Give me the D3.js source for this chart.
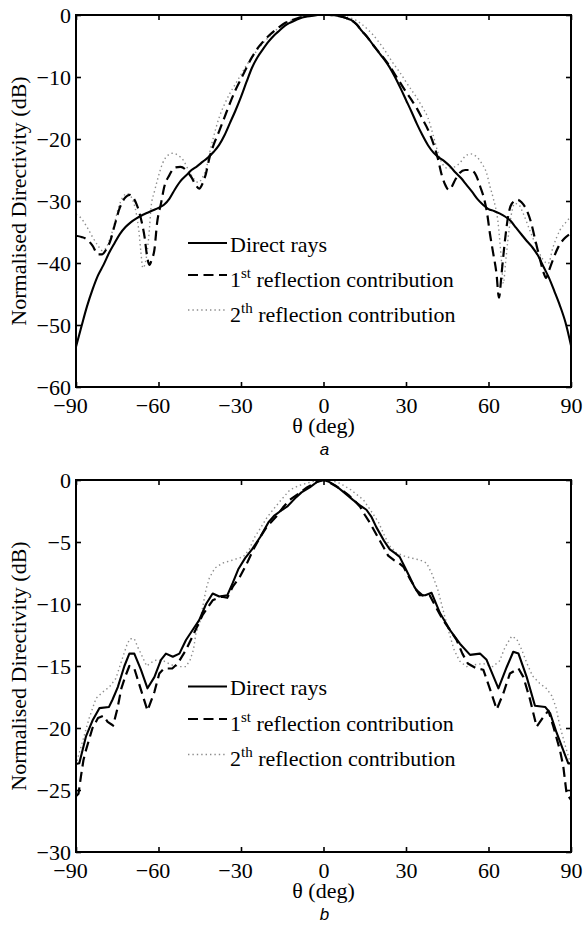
<!DOCTYPE html>
<html>
<head>
<meta charset="utf-8">
<script src="https://cdn.jsdelivr.net/npm/d3@7"></script>
<style>
  html, body { margin: 0; padding: 0; background: #fff; }
  svg { display: block; }
  .serif { font-family: "Liberation Serif", "Times New Roman", Times, serif; fill: #000; }
  .sansit { font-family: "Liberation Sans", Arial, sans-serif; font-style: italic; fill: #000; }
</style>
</head>
<body>
<svg id="chart" width="583" height="928"></svg>
<script>
// ---------------- DATA ----------------
const thetaTicks = [-90, -60, -30, 0, 30, 60, 90];
const yTicksA = [0, -10, -20, -30, -40, -50, -60];
const yTicksB = [0, -5, -10, -15, -20, -25, -30];
const legendLabels = ["Direct rays", "1st reflection contribution", "2th reflection contribution"];
const xLabel = "\u03B8 (deg)";
const yLabel = "Normalised Directivity (dB)";
const captions = ["a", "b"];

// Panel a — direct rays
const aDirectTheta = [-90,-88,-86,-84,-82,-80,-78,-76,-74,-72,-70,-68,-66,-64,-62,-60,-58,-56,-54,-52,-50,-48,-46,-44,-42,-40,-38,-36,-34,-32,-30,-28,-26,-24,-22,-20,-18,-16,-14,-12,-10,-8,-6,-4,-2,0,2,4,6,8,10,12,14,16,18,20,22,24,26,28,30,32,34,36,38,40,42,44,46,48,50,52,54,56,58,60,62,64,66,68,70,72,74,76,78,80,82,84,86,88,90];
const aDirectDB = [-53.5,-50.2,-47.0,-44.3,-42.0,-40.3,-38.4,-36.8,-35.3,-34.2,-33.4,-32.8,-32.3,-31.9,-31.5,-31.1,-30.6,-29.6,-28.1,-26.8,-25.9,-25.0,-24.4,-23.7,-23.0,-22.1,-21.0,-19.4,-17.4,-15.4,-13.2,-10.8,-8.5,-6.8,-5.5,-4.3,-3.3,-2.5,-1.7,-1.2,-0.8,-0.45,-0.25,-0.1,0,0,0,-0.05,-0.2,-0.45,-0.8,-1.5,-2.6,-3.6,-4.8,-6.0,-7.1,-8.4,-10.0,-11.8,-13.7,-15.6,-17.6,-19.4,-21.0,-22.2,-23.0,-23.6,-24.4,-25.4,-26.3,-27.4,-28.5,-29.7,-30.6,-31.3,-31.6,-32.0,-32.5,-33.2,-34.3,-35.4,-36.5,-37.5,-38.8,-40.6,-42.4,-44.6,-46.9,-49.6,-53.3];

// Panel a — 1st reflection
const aFirstTheta = [-90,-88,-86,-84,-82,-80.5,-79,-77.5,-76,-74,-72,-70.5,-69,-68,-67,-66,-65,-64.2,-63.3,-62.5,-61.5,-60.5,-59,-58,-56,-54,-52,-50,-48,-46.5,-45.2,-44,-42.7,-41.5,-40,-38,-36,-34,-32,-30,-28,-26,-24,-22,-20,-18,-16,-14,-12,-10,-8,-6,-4,-2,0,2,4,6,8,10,12,14,16,18,20,22,24,26,28,30,32,34,36,38,40,41.5,43,44.5,45.5,46.5,48,49.5,51.5,53.5,55.5,57,58.5,59.5,60.5,61.7,62.9,63.8,64.8,66,67.2,68.5,70.5,72,74,75.5,77,78.5,80,80.9,82,83.5,85.4,87.5,90];
const aFirstDB = [-35.6,-35.8,-36.2,-37.2,-38.6,-38.6,-37.8,-36.4,-34.0,-31.0,-29.4,-29.0,-29.6,-30.5,-31.8,-33.6,-36.0,-38.8,-40.3,-39.5,-37.9,-33.5,-30.2,-27.9,-25.8,-24.6,-24.5,-25.0,-26.2,-27.4,-28.0,-27.2,-25.5,-23.1,-21.0,-18.8,-16.5,-14.2,-12.1,-10.3,-8.5,-6.8,-5.4,-4.3,-3.4,-2.6,-1.9,-1.3,-0.9,-0.6,-0.35,-0.15,-0.05,0,0,0,-0.05,-0.2,-0.45,-0.8,-1.5,-2.6,-3.6,-4.8,-5.9,-7.0,-8.2,-9.6,-11.0,-12.4,-13.7,-15.1,-16.8,-18.5,-20.8,-23.0,-25.8,-27.6,-28.2,-27.8,-26.5,-25.5,-25.0,-25.0,-25.9,-27.7,-29.8,-32.0,-35.2,-38.4,-41.7,-45.6,-41.5,-36.3,-32.3,-30.4,-29.8,-30.2,-31.6,-33.5,-36.3,-39.0,-41.5,-42.4,-41.2,-39.4,-37.4,-36.1,-35.2];

// Panel a — 2nd reflection
const aSecondTheta = [-90,-88.5,-86,-84,-82,-80.5,-79.5,-78,-76.5,-74.5,-73,-71.5,-70,-69,-68,-67.2,-66.4,-65.7,-65,-64,-63.3,-62.7,-61.5,-60.5,-58.5,-56.5,-54.8,-53,-51,-49,-47,-45.5,-44,-42.5,-41.3,-40,-38,-36,-34,-32,-30,-28,-26,-24,-22,-20,-18,-16,-14,-12,-10,-8,-6,-4,-2,0,2,4,6,8,10,12,14,16,18,20,22,24,26,28,30,32,34,36,38,40,41.5,43,45,47,49.5,51.5,53.5,55.5,57.5,59.3,60.5,61.7,63.5,64.6,65.4,66.2,67,67.8,69.6,71,72.6,75,77.5,79.9,81.7,83.5,86,88.4,90];
const aSecondDB = [-32.2,-32.6,-34.2,-35.8,-37.2,-38.0,-37.8,-36.5,-34.5,-31.0,-29.4,-28.8,-29.3,-30.3,-32.2,-34.6,-38.2,-40.8,-40.3,-37.8,-34.5,-31.0,-28.5,-26.8,-23.9,-22.6,-22.3,-22.6,-23.4,-25.1,-26.5,-27.0,-26.2,-24.5,-22.0,-19.7,-16.6,-14.4,-12.6,-11.1,-9.6,-8.1,-6.9,-5.6,-4.5,-3.6,-2.7,-2.0,-1.4,-0.9,-0.55,-0.3,-0.15,-0.05,0,0,0,-0.02,-0.1,-0.3,-0.5,-0.9,-1.5,-2.3,-3.2,-4.3,-5.5,-6.9,-8.2,-9.4,-10.8,-12.1,-13.4,-14.9,-16.6,-19.6,-22.0,-23.8,-24.7,-24.6,-23.9,-22.8,-22.4,-22.8,-23.9,-25.5,-27.6,-29.5,-33.6,-39.0,-43.3,-40.0,-36.5,-33.6,-30.4,-30.6,-32.0,-34.7,-37.4,-39.5,-40.1,-37.4,-34.7,-33.3,-32.5];

// Panel b — direct rays
const bDirectTheta = [-90,-88.8,-86.4,-84,-81.5,-78,-76.7,-74.8,-72.4,-70.6,-68.8,-66.4,-64,-61.5,-59.1,-57.3,-54.8,-52.4,-50,-47.6,-45.2,-42.7,-40.3,-37.9,-35,-33,-31,-28.5,-26,-23,-20,-18,-15,-13,-10,-8,-5,-2,0,2,4.7,8,10.7,13,15.6,17.5,19.2,22,24.1,26,27.7,29.5,31.3,33,35,37,39.3,42.4,46,49.6,53.3,56.9,59.3,63.6,66.6,69,70.9,73.9,76.9,80.6,82.4,84.8,87.2,89,90];
const bDirectDB = [-22.9,-22.85,-20.7,-19.4,-18.4,-18.3,-17.7,-16.7,-15.0,-14.0,-14.0,-15.3,-16.8,-15.9,-14.5,-14.0,-14.25,-14.0,-12.9,-12.1,-11.3,-10.0,-9.15,-9.4,-9.3,-8.3,-7.2,-6.3,-5.6,-4.6,-3.4,-2.9,-2.4,-2.1,-1.4,-1.0,-0.6,-0.1,0,-0.15,-0.5,-1.1,-1.6,-2.0,-2.4,-3.0,-3.8,-4.9,-5.6,-5.9,-6.2,-7.0,-7.8,-8.6,-9.3,-9.3,-9.1,-10.75,-12.1,-13.2,-14.1,-14.0,-14.5,-16.8,-15.1,-13.85,-14.0,-15.9,-18.2,-18.3,-18.8,-20.4,-21.8,-22.85,-22.85];

// Panel b — 1st reflection
const bFirstTheta = [-90,-89.1,-88.2,-87.3,-86.4,-84,-82,-80,-78.5,-76.5,-75,-73.5,-72,-70.6,-68.8,-66.4,-64,-61.5,-59.7,-58,-55,-53,-50,-47.6,-44,-40.3,-37,-35,-33,-30.4,-28,-25.5,-23,-20.7,-17,-14.7,-12.3,-9,-6,-3,0,3,6,9,11,13.3,15,17,19.5,21.8,23.5,25.5,27.5,29.1,31.5,33.9,36,38.6,41,43.5,46,48.4,50.5,52.5,55.7,58.1,60.6,63,65.4,67.8,70.9,72.7,75.1,77.5,80,81.8,83.6,86,87.2,88.4,90];
const bFirstDB = [-25.5,-25.3,-23.9,-22.6,-21.8,-20.0,-19.2,-19.0,-19.5,-19.8,-18.5,-16.8,-15.8,-15.0,-15.2,-16.9,-18.6,-17.1,-15.6,-15.2,-15.2,-14.8,-13.7,-12.6,-10.9,-9.7,-9.4,-9.5,-8.6,-7.8,-6.8,-5.6,-4.6,-3.8,-2.9,-2.2,-1.6,-1.1,-0.6,-0.2,0,-0.3,-0.7,-1.2,-1.6,-2.15,-2.8,-3.5,-4.5,-5.4,-6.1,-6.45,-6.7,-7.0,-8.0,-8.9,-9.3,-9.3,-10.3,-11.3,-12.1,-12.9,-14.0,-14.8,-15.2,-15.3,-16.9,-18.5,-17.2,-15.6,-15.2,-15.9,-17.7,-19.9,-19.1,-18.6,-19.9,-21.8,-23.1,-25.3,-25.8];

// Panel b — 2nd reflection
const bSecondTheta = [-90,-89.2,-87.5,-85.2,-82.7,-80.3,-77.9,-75.5,-73,-71.5,-70.4,-68.8,-67.5,-66.4,-64.3,-62.5,-60.7,-58,-55.5,-52.4,-50,-48.5,-47.3,-46.4,-44.9,-43.9,-42.7,-41.5,-39.5,-36.7,-33,-29.2,-27,-25,-23,-20.5,-18,-15,-12.2,-9,-6,-3,0,3,6,10,14.5,17,20,22,24,26.6,30.2,35,37.5,39.5,41.5,43.5,45.5,47.5,49.5,52,55,58,61.5,64,66,68.4,70.2,72.1,74,76,78.6,81,83,84.5,86,88.4,90];
const bSecondDB = [-23.0,-22.3,-21.0,-19.2,-17.6,-17.1,-16.7,-16.0,-14.3,-13.3,-12.8,-12.8,-13.5,-14.0,-15.0,-14.7,-14.5,-14.6,-14.9,-15.05,-15.05,-14.5,-13.7,-12.4,-11.4,-10.2,-8.8,-7.9,-7.1,-6.7,-6.45,-6.2,-5.6,-4.6,-3.9,-3.0,-2.3,-1.5,-0.8,-0.45,-0.25,-0.08,0,-0.05,-0.27,-0.8,-1.6,-2.4,-3.4,-4.4,-5.3,-5.9,-6.2,-6.45,-6.7,-7.6,-8.8,-10.5,-12.2,-13.7,-14.6,-15.05,-14.9,-14.8,-15.05,-14.6,-13.5,-12.6,-12.8,-13.7,-14.8,-15.8,-16.4,-16.8,-17.4,-18.3,-19.9,-21.8,-23.0];

// ---------------- DRAWING ----------------
const svg = d3.select("#chart");
const plotLeft = 76, plotRight = 571;
const fontSize = 22;

const styles = [
  { stroke: "#000", width: 2.1, dash: null },
  { stroke: "#000", width: 2.2, dash: "10,5.5" },
  { stroke: "#8c8c8c", width: 1.4, dash: "1.4,3" }
];

const panels = [
  { top: 15, bottom: 387, domain: [-60, 0], ticks: yTicksA, curve: d3.curveMonotoneX,
    series: [[aDirectTheta, aDirectDB], [aFirstTheta, aFirstDB], [aSecondTheta, aSecondDB]],
    legendBase: [251.5, 286.5, 321.5], caption: captions[0] },
  { top: 480, bottom: 852, domain: [-30, 0], ticks: yTicksB, curve: d3.curveLinear,
    series: [[bDirectTheta, bDirectDB], [bFirstTheta, bFirstDB], [bSecondTheta, bSecondDB]],
    legendBase: [695, 730.5, 766], caption: captions[1] }
];

const fmt = d => d < 0 ? "\u2212" + Math.abs(d) : String(d);

panels.forEach((p, pi) => {
  const x = d3.scaleLinear().domain([-90, 90]).range([plotLeft, plotRight]);
  const y = d3.scaleLinear().domain(p.domain).range([p.bottom, p.top]);
  const g = svg.append("g");

  const clipId = "clip" + pi;
  svg.append("clipPath").attr("id", clipId).append("rect")
    .attr("x", plotLeft).attr("y", p.top)
    .attr("width", plotRight - plotLeft).attr("height", p.bottom - p.top);

  // series
  const line = d3.line().x(d => x(d[0])).y(d => y(d[1])).curve(p.curve);
  [2, 1, 0].forEach(si => {
    const [th, db] = p.series[si];
    const pts = th.map((t, i) => [t, db[i]]);
    const st = styles[si];
    g.append("path")
      .attr("clip-path", `url(#${clipId})`)
      .attr("d", line(pts))
      .attr("fill", "none")
      .attr("stroke", st.stroke)
      .attr("stroke-width", st.width)
      .attr("stroke-dasharray", st.dash)
      .attr("stroke-linejoin", "round");
  });

  // axes
  const axB = d3.axisBottom(x).tickValues(thetaTicks).tickSizeInner(-5).tickSizeOuter(0).tickFormat(fmt);
  const axT = d3.axisTop(x).tickValues(thetaTicks).tickSizeInner(-5).tickSizeOuter(0).tickFormat("");
  const axL = d3.axisLeft(y).tickValues(p.ticks).tickSizeInner(-5).tickSizeOuter(0).tickFormat(fmt);
  const axR = d3.axisRight(y).tickValues(p.ticks).tickSizeInner(-5).tickSizeOuter(0).tickFormat("");

  const gb = g.append("g").attr("transform", `translate(0,${p.bottom})`).call(axB);
  const gt = g.append("g").attr("transform", `translate(0,${p.top})`).call(axT);
  const gl = g.append("g").attr("transform", `translate(${plotLeft},0)`).call(axL);
  const gr = g.append("g").attr("transform", `translate(${plotRight},0)`).call(axR);

  [gb, gt, gl, gr].forEach(a => {
    a.attr("font-family", null).attr("font-size", null);
    a.select(".domain").remove();
    a.selectAll(".tick line").attr("stroke", "#000").attr("stroke-width", 1.6);
    a.selectAll("text").attr("class", "serif").style("font-size", fontSize + "px");
  });
  gb.selectAll(".tick text").attr("y", 26).attr("dy", 0)
    .attr("dx", d => d < 0 ? -6 : 0);
  gl.selectAll(".tick text").attr("x", -5).attr("dy", "0.34em");

  // frame
  g.append("rect")
    .attr("x", plotLeft).attr("y", p.top)
    .attr("width", plotRight - plotLeft).attr("height", p.bottom - p.top)
    .attr("fill", "none").attr("stroke", "#000").attr("stroke-width", 2);

  // axis labels
  const cx = (plotLeft + plotRight) / 2;
  g.append("text").attr("class", "serif").attr("x", cx).attr("y", p.bottom + 45.5)
    .attr("text-anchor", "middle").style("font-size", fontSize + "px").text(xLabel);
  g.append("text").attr("class", "serif")
    .attr("transform", `translate(26,${(p.top + p.bottom) / 2}) rotate(-90)`)
    .attr("text-anchor", "middle").style("font-size", fontSize + "px").text(yLabel);
  g.append("text").attr("class", "sansit").attr("x", cx + 1).attr("y", p.bottom + 68)
    .attr("text-anchor", "middle").style("font-size", "17px").text(p.caption);

  // legend
  const lx0 = 188, lx1 = 227, tx = 230;
  legendLabels.forEach((lab, i) => {
    const base = p.legendBase[i];
    const ly = base - (i === 0 ? 8.5 : 11.5);
    const st = styles[i];
    g.append("line").attr("x1", lx0).attr("x2", lx1).attr("y1", ly).attr("y2", ly)
      .attr("stroke", st.stroke).attr("stroke-width", st.width)
      .attr("stroke-dasharray", st.dash);
    const t = g.append("text").attr("class", "serif").attr("x", tx).attr("y", base)
      .style("font-size", fontSize + "px");
    if (i === 0) {
      t.text(lab);
    } else {
      const m = lab.match(/^(\d)(st|th)\s(.*)$/);
      t.append("tspan").text(m[1]);
      t.append("tspan").style("font-size", "15px").attr("dy", -9).text(m[2]);
      t.append("tspan").attr("dy", 9).text(" " + m[3]);
    }
  });
});
</script>
</body>
</html>
